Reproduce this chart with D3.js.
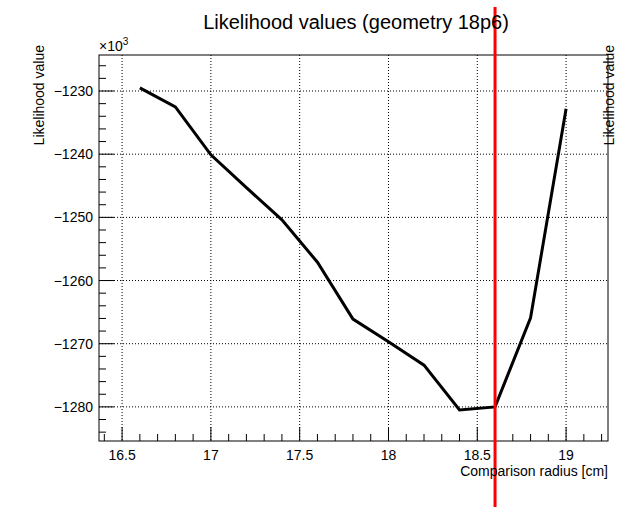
<!DOCTYPE html>
<html><head><meta charset="utf-8">
<script src="https://cdn.jsdelivr.net/npm/d3@7"></script>
<style>body{margin:0;background:#fff}text{font-family:"Liberation Sans",Arial,sans-serif}</style>
</head><body><div id="chart"></div>
<script>
var radius = [16.6,16.8,17.0,17.2,17.4,17.6,17.8,18.0,18.2,18.4,18.6,18.8,19.0];
var likelihood = [-1229.5,-1232.5,-1240.1,-1245.3,-1250.4,-1257.1,-1266.1,-1269.7,-1273.4,-1280.5,-1280.0,-1265.9,-1232.8];
var bestRadius = 18.6;
var xTicks = [16.5,17,17.5,18,18.5,19];
var yTicks = [-1230,-1240,-1250,-1260,-1270,-1280];

var svgWidth = 633, svgHeight = 507;
var margin = {top: 55, right: 25, bottom: 66, left: 99};
var width = svgWidth - margin.left - margin.right;
var height = svgHeight - margin.top - margin.bottom;

var svg = d3.select("#chart").append("svg")
  .attr("width", svgWidth).attr("height", svgHeight);
var g = svg.append("g").attr("transform", `translate(${margin.left},${margin.top})`);

var x = d3.scaleLinear().domain([16.37, 19.236]).range([0, width]);
var y = d3.scaleLinear().domain([-1285.4, -1224.3]).range([height, 0]);

// grid
g.selectAll(".gx").data(xTicks).enter().append("line")
  .attr("x1", d => x(d)).attr("x2", d => x(d)).attr("y1", 0).attr("y2", height)
  .attr("stroke", "#000").attr("stroke-dasharray", "1,2");
g.selectAll(".gy").data(yTicks).enter().append("line")
  .attr("y1", d => y(d)).attr("y2", d => y(d)).attr("x1", 0).attr("x2", width)
  .attr("stroke", "#000").attr("stroke-dasharray", "1,2");

// frame
g.append("rect").attr("width", width).attr("height", height)
  .attr("fill", "none").attr("stroke", "#000");

// x ticks (inward)
var xMinor = d3.range(16.4, 19.25, 0.1);
g.selectAll(".xt").data(xMinor).enter().append("line")
  .attr("x1", d => x(d)).attr("x2", d => x(d))
  .attr("y1", height).attr("y2", d => height - (Math.abs(d*2 - Math.round(d*2)) < 0.01 ? 14 : 7))
  .attr("stroke", "#000");
g.selectAll(".xl").data(xTicks).enter().append("text")
  .attr("x", d => x(d)).attr("y", height + 19).attr("text-anchor", "middle")
  .attr("font-size", 14).text(d => d);

// y ticks
var yMinor = d3.range(-1284, -1224, 2);
g.selectAll(".yt").data(yMinor).enter().append("line")
  .attr("y1", d => y(d)).attr("y2", d => y(d))
  .attr("x1", 0).attr("x2", d => d % 10 === 0 ? 15 : 7)
  .attr("stroke", "#000");
g.selectAll(".yl").data(yTicks).enter().append("text")
  .attr("x", -6).attr("y", d => y(d) + 5).attr("text-anchor", "end")
  .attr("font-size", 14).text(d => "\u2212" + Math.abs(d));

g.append("text").attr("x", 0).attr("y", -4).attr("font-size", 14).text("\u00d710")
  .append("tspan").attr("font-size", 10).attr("dy", -6).text("3");

// line
g.append("path").datum(radius.map((r, i) => [r, likelihood[i]]))
  .attr("d", d3.line().x(d => x(d[0])).y(d => y(d[1])))
  .attr("fill", "none").attr("stroke", "#000").attr("stroke-width", 3);

// best radius marker
svg.append("line")
  .attr("x1", margin.left + x(bestRadius)).attr("x2", margin.left + x(bestRadius))
  .attr("y1", 7).attr("y2", svgHeight)
  .attr("stroke", "#ff0000").attr("stroke-width", 3);

// titles
svg.append("text").attr("x", 356).attr("y", 29).attr("text-anchor", "middle")
  .attr("font-size", 20).text("Likelihood values (geometry 18p6)");
svg.append("text").attr("x", 608).attr("y", 476).attr("text-anchor", "end")
  .attr("font-size", 14).text("Comparison radius [cm]");
[44, 614].forEach(function(px) {
  svg.append("text").attr("transform", `translate(${px},45) rotate(-90)`)
    .attr("text-anchor", "end").attr("font-size", 14).text("Likelihood value");
});
</script></body></html>
